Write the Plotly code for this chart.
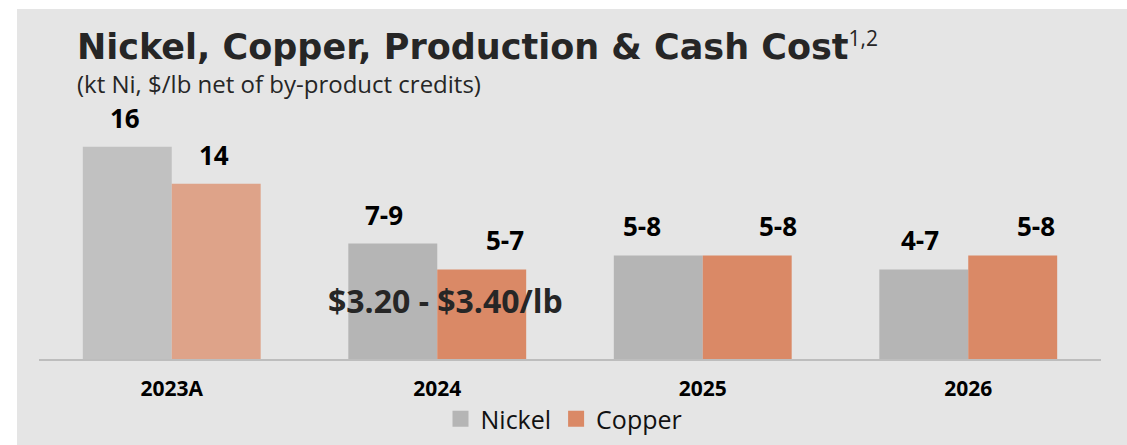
import plotly.graph_objects as go

# ---------------- data ----------------
categories = ["2023A", "2024", "2025", "2026"]
nickel_heights = [16, 8.7, 7.8, 6.75]
copper_heights = [13.2, 6.75, 7.8, 7.8]
nickel_labels = ["16", "7-9", "5-8", "4-7"]
copper_labels = ["14", "5-7", "5-8", "5-8"]
cash_cost_label = "$3.20 - $3.40/lb"
cash_cost_category = "2024"
cash_cost_level = 4.4
series_names = ["Nickel", "Copper"]
title_text = "Nickel, Copper, Production & Cash Cost"
title_sup = "1,2"
subtitle_text = "(kt Ni, $/lb net of by-product credits)"

# ---------------- styles ----------------
nickel_colors = ["#c1c1c1", "#b5b5b5", "#b5b5b5", "#b5b5b5"]
copper_colors = ["#dea389", "#da8966", "#da8966", "#da8966"]
legend_colors = ["#b5b5b5", "#da8966"]
nickel_nudge = [-2, -9, -16, -4]
copper_nudge = [-2, 23, 31, 23]
PANEL = "#e5e5e5"
W, H = 1127, 445
ML, MR, MT, MB = 39, 26, 110, 86
PX_PER_UNIT = 13.27
plot_w = W - ML - MR
plot_h = H - MT - MB
ymax = plot_h / PX_PER_UNIT
BAR_HALF = plot_w / len(categories) * (1 - 0.33) / 4


def px_x(px):
    return (px - ML) / plot_w


def px_y(py):
    return (H - MB - py) / plot_h


fig = go.Figure()
fig.add_trace(go.Bar(x=categories, y=nickel_heights, name=series_names[0],
                     marker=dict(color=nickel_colors, line=dict(width=0)),
                     showlegend=False, hoverinfo="skip"))
fig.add_trace(go.Bar(x=categories, y=copper_heights, name=series_names[1],
                     marker=dict(color=copper_colors, line=dict(width=0)),
                     showlegend=False, hoverinfo="skip"))
for name, col in zip(series_names, legend_colors):
    fig.add_trace(go.Scatter(x=[categories[0]], y=[None], mode="markers", name=name,
                             marker=dict(symbol="square", size=16, color=col),
                             hoverinfo="skip"))

label_font = dict(family="Open Sans", size=26, color="#000000", weight="bold")
for i, c in enumerate(categories):
    # category axes take the category index for annotation positions
    fig.add_annotation(x=i, y=nickel_heights[i], xref="x", yref="y",
                       text=nickel_labels[i], showarrow=False,
                       xshift=-BAR_HALF + nickel_nudge[i], yshift=9,
                       yanchor="bottom", font=label_font)
    fig.add_annotation(x=i, y=copper_heights[i], xref="x", yref="y",
                       text=copper_labels[i], showarrow=False,
                       xshift=BAR_HALF + copper_nudge[i], yshift=9,
                       yanchor="bottom", font=label_font)

fig.add_annotation(x=categories.index(cash_cost_category), y=cash_cost_level,
                   xref="x", yref="y",
                   text=f"<b>{cash_cost_label}</b>", showarrow=False, xshift=8,
                   yanchor="middle",
                   font=dict(family="Open Sans", size=32, color="#262626"))

fig.add_annotation(x=px_x(75), y=px_y(45), xref="paper", yref="paper",
                   text=(f"<b>{title_text}</b>"
                         f"<span style='font-family:Open Sans;font-size:30px'>"
                         f"<sup>{title_sup}</sup></span>"),
                   showarrow=False, xanchor="left", yanchor="middle",
                   font=dict(family="DejaVu Sans", size=35, color="#262626"))
fig.add_annotation(x=px_x(75), y=px_y(83), xref="paper", yref="paper",
                   text=subtitle_text, showarrow=False, xanchor="left",
                   yanchor="middle",
                   font=dict(family="Open Sans", size=24, color="#262626"))

fig.add_shape(type="rect", xref="paper", yref="paper", layer="below",
              x0=px_x(17), x1=px_x(W + 5), y0=px_y(H + 5), y1=px_y(9),
              fillcolor=PANEL, line=dict(width=0))

fig.update_layout(
    width=W, height=H,
    margin=dict(l=ML, r=MR, t=MT, b=MB, autoexpand=False),
    paper_bgcolor="#ffffff", plot_bgcolor="rgba(0,0,0,0)",
    barmode="group", bargap=0.33, bargroupgap=0,
    font=dict(family="Open Sans", color="#000000"),
    legend=dict(orientation="h", x=px_x(564), xanchor="center", y=px_y(419),
                yanchor="middle", font=dict(family="Open Sans", size=25, color="#111111"),
                bgcolor="rgba(0,0,0,0)", tracegroupgap=0),
    xaxis=dict(type="category", categoryorder="array", categoryarray=categories,
               range=[-0.5, len(categories) - 0.5],
               showgrid=False, showline=True, linecolor="#bdbdbd", linewidth=2,
               ticks="", tickfont=dict(family="Open Sans", size=21, color="#000000",
                                       weight="bold"),
               ticklabelstandoff=10, fixedrange=True, automargin=False),
    yaxis=dict(range=[0, ymax], visible=False, showgrid=False, zeroline=False,
               fixedrange=True),
)

fig.write_html("out.html", config={"displayModeBar": False},
               post_script="document.body.style.margin='0';")
